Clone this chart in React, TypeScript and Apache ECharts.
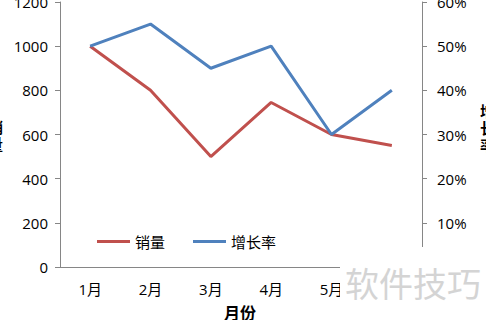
import React, { useEffect, useRef } from "react";
import * as echarts from "echarts";

const months = ["1月", "2月", "3月", "4月", "5月", "6月"];
const sales = [1000, 800, 500, 745, 600, 550];
const growth = [0.5, 0.55, 0.45, 0.5, 0.3, 0.4];

const FONT = "'Open Sans', 'Noto Sans CJK SC', sans-serif";

export default function App() {
  const ref = useRef<HTMLDivElement>(null);
  useEffect(() => {
    if (!ref.current) return;
    document.body.style.margin = "0";
    const chart = echarts.init(ref.current, null, { renderer: "svg" });
    chart.setOption({
      animation: false,
      grid: { left: 60, right: 64, top: 2, bottom: 53, outerBoundsMode: "none" },
      legend: {
        left: 97,
        top: 234,
        padding: 0,
        icon: "rect",
        itemWidth: 33,
        itemHeight: 3,
        itemGap: 28,
        textStyle: { fontFamily: FONT, fontSize: 15, color: "#000" },
        data: ["销量", "增长率"],
      },
      xAxis: {
        type: "category",
        data: months,
        boundaryGap: true,
        axisLine: { lineStyle: { color: "#868686", width: 1 } },
        axisTick: { show: false },
        axisLabel: { margin: 14, fontFamily: FONT, fontSize: 15, color: "#000" },
      },
      yAxis: [
        {
          type: "value",
          min: 0,
          max: 1200,
          interval: 200,
          splitLine: { show: false },
          axisLine: { show: true, lineStyle: { color: "#868686" } },
          axisTick: { show: true, length: 5, lineStyle: { color: "#868686" } },
          axisLabel: {
            margin: 12,
            fontFamily: FONT,
            fontSize: 15,
            color: "#000",
            formatter: (v: number) => String(v),
          },
        },
        {
          type: "value",
          min: 0,
          max: 0.6,
          interval: 0.1,
          position: "right",
          splitLine: { show: false },
          axisLine: { show: true, lineStyle: { color: "#868686" } },
          axisTick: { show: true, length: 5, lineStyle: { color: "#868686" } },
          axisLabel: {
            margin: 15,
            fontFamily: FONT,
            fontSize: 15,
            color: "#000",
            formatter: (v: number) => Math.round(v * 100) + "%",
          },
        },
      ],
      series: [
        {
          name: "销量",
          type: "line",
          data: sales,
          yAxisIndex: 0,
          symbol: "none",
          lineStyle: { color: "#C0504D", width: 3 },
          itemStyle: { color: "#C0504D" },
        },
        {
          name: "增长率",
          type: "line",
          data: growth,
          yAxisIndex: 1,
          symbol: "none",
          lineStyle: { color: "#4F81BD", width: 3 },
          itemStyle: { color: "#4F81BD" },
        },
      ],
      graphic: [
        {
          type: "text",
          left: 224,
          top: 305,
          style: { text: "月份", font: `bold 16px ${FONT}`, fill: "#000" },
        },
        {
          type: "text",
          x: -12,
          y: 118,
          style: { text: "销\n量", font: `bold 15px ${FONT}`, fill: "#000", lineHeight: 17 },
        },
        {
          type: "text",
          x: 480,
          y: 102,
          style: { text: "增\n长\n率", font: `bold 15px ${FONT}`, fill: "#000", lineHeight: 17 },
        },
        {
          type: "rect",
          shape: { x: 340, y: 247, width: 146, height: 73 },
          style: { fill: "#fff" },
          z: 100,
        },
        {
          type: "text",
          x: 345,
          y: 265,
          z: 101,
          style: { text: "软件技巧", font: `34px 'Noto Sans CJK SC', sans-serif`, fill: "#d4d4d4" },
        },
      ],
    });
    return () => chart.dispose();
  }, []);
  return <div ref={ref} style={{ width: 486, height: 320 }} />;
}
